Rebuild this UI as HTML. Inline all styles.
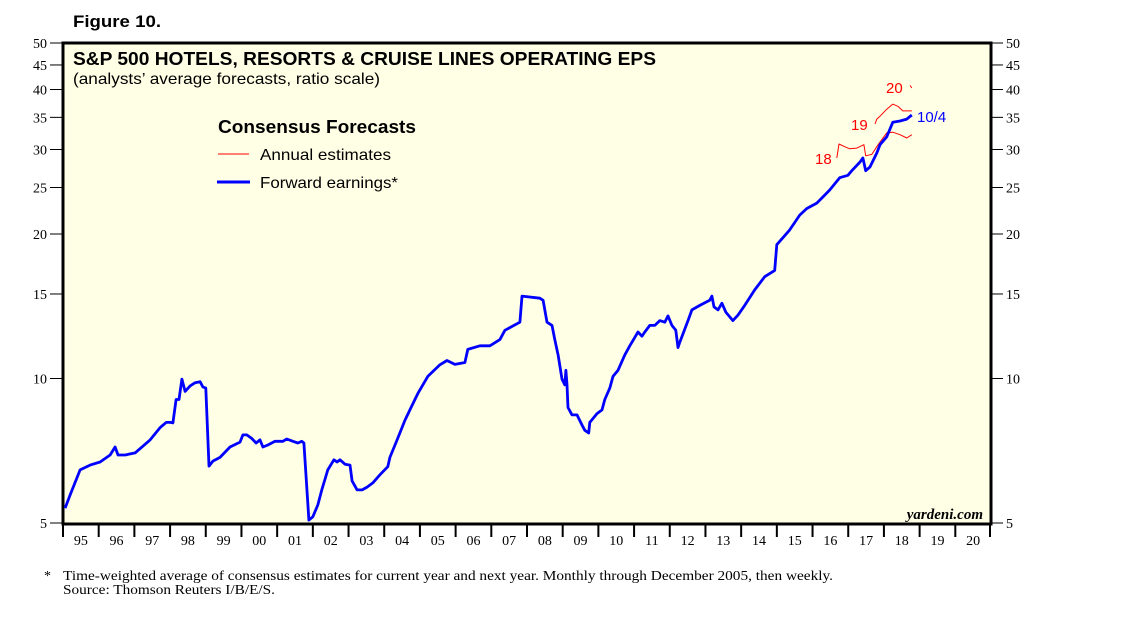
<!DOCTYPE html>
<html><head><meta charset="utf-8">
<style>
body{margin:0;background:#fff;width:1138px;height:623px;overflow:hidden}
svg{display:block}
.t{font-family:"Liberation Serif",serif;font-size:14px;fill:#000}
.s{font-family:"Liberation Sans",sans-serif}
</style></head>
<body>
<svg id="chart" width="1138" height="623" xmlns="http://www.w3.org/2000/svg">
<text x="73" y="27" class="s" font-size="17" font-weight="bold" textLength="88" lengthAdjust="spacingAndGlyphs">Figure 10.</text>
<rect x="63" y="43" width="928" height="481" fill="#FFFFE6" stroke="#000" stroke-width="3"/>
<text x="73" y="65" class="s" font-size="18" font-weight="bold" textLength="583" lengthAdjust="spacingAndGlyphs">S&amp;P 500 HOTELS, RESORTS &amp; CRUISE LINES OPERATING EPS</text>
<text x="73" y="84" class="s" font-size="16" textLength="307" lengthAdjust="spacingAndGlyphs">(analysts’ average forecasts, ratio scale)</text>
<g>
<text x="218" y="133" class="s" font-size="18" font-weight="bold" textLength="198" lengthAdjust="spacingAndGlyphs">Consensus Forecasts</text>
<line x1="218" y1="154" x2="249" y2="154" stroke="#f00" stroke-width="1"/>
<text x="260" y="160" class="s" font-size="16" textLength="131" lengthAdjust="spacingAndGlyphs">Annual estimates</text>
<line x1="217" y1="182" x2="250" y2="182" stroke="#00f" stroke-width="3"/>
<text x="260" y="188" class="s" font-size="16" textLength="138" lengthAdjust="spacingAndGlyphs">Forward earnings*</text>
</g>
<g id="axes"></g>
<g id="series"></g>
<text x="815" y="164" class="s" font-size="15" fill="#f00">18</text>
<text x="851" y="130" class="s" font-size="15" fill="#f00">19</text>
<text x="886" y="93" class="s" font-size="15" fill="#f00">20</text>
<text x="917" y="122" class="s" font-size="15" fill="#00f">10/4</text>
<text x="983" y="519" text-anchor="end" font-family="Liberation Serif,serif" font-style="italic" font-weight="bold" font-size="15">yardeni.com</text>
<text x="44" y="580" class="t" font-size="15">*</text>
<text x="63" y="580" class="t" font-size="15" textLength="770" lengthAdjust="spacingAndGlyphs">Time-weighted average of consensus estimates for current year and next year. Monthly through December 2005, then weekly.</text>
<text x="63" y="594" class="t" font-size="15" textLength="212" lengthAdjust="spacingAndGlyphs">Source: Thomson Reuters I/B/E/S.</text>
</svg>
<script>
const yTicks=[5,10,15,20,25,30,35,40,45,50];
const yearLabels=["95","96","97","98","99","00","01","02","03","04","05","06","07","08","09","10","11","12","13","14","15","16","17","18","19","20"];
const fwdYears=[1995.06,1995.2,1995.48,1995.76,1996.04,1996.32,1996.46,1996.54,1996.74,1997.02,1997.44,1997.72,1997.89,1998.0,1998.08,1998.17,1998.25,1998.33,1998.42,1998.56,1998.7,1998.84,1998.92,1999.0,1999.09,1999.2,1999.4,1999.68,1999.96,2000.04,2000.15,2000.29,2000.41,2000.52,2000.6,2000.74,2000.94,2001.16,2001.27,2001.44,2001.58,2001.69,2001.75,2001.89,2002.0,2002.14,2002.25,2002.42,2002.59,2002.68,2002.76,2002.9,2003.04,2003.1,2003.24,2003.38,2003.52,2003.68,2003.88,2004.1,2004.16,2004.36,2004.58,2004.72,2004.94,2005.22,2005.56,2005.76,2005.98,2006.26,2006.34,2006.68,2006.96,2007.24,2007.38,2007.8,2007.86,2008.36,2008.45,2008.56,2008.7,2008.78,2008.87,2008.98,2009.06,2009.09,2009.12,2009.15,2009.26,2009.4,2009.54,2009.62,2009.73,2009.76,2009.96,2010.1,2010.18,2010.32,2010.41,2010.55,2010.74,2010.88,2011.11,2011.22,2011.3,2011.44,2011.58,2011.72,2011.86,2011.95,2012.06,2012.17,2012.23,2012.28,2012.51,2012.62,2012.84,2013.12,2013.18,2013.24,2013.35,2013.46,2013.57,2013.77,2013.91,2014.1,2014.38,2014.66,2014.94,2015.0,2015.36,2015.64,2015.84,2016.12,2016.34,2016.48,2016.76,2016.99,2017.1,2017.32,2017.41,2017.49,2017.61,2017.8,2017.89,2018.08,2018.25,2018.45,2018.64,2018.78];
const fwdValues=[5.37,5.72,6.45,6.6,6.7,6.93,7.2,6.93,6.93,7.0,7.45,7.9,8.1,8.1,8.08,9.04,9.04,9.97,9.4,9.65,9.8,9.85,9.6,9.55,6.57,6.73,6.85,7.2,7.37,7.63,7.63,7.5,7.34,7.45,7.2,7.27,7.4,7.4,7.48,7.4,7.34,7.4,7.34,5.07,5.15,5.45,5.86,6.45,6.77,6.7,6.77,6.63,6.6,6.12,5.86,5.86,5.94,6.06,6.3,6.55,6.85,7.45,8.18,8.6,9.3,10.1,10.68,10.9,10.7,10.8,11.5,11.7,11.7,12.05,12.6,13.1,14.85,14.7,14.55,13.1,12.9,12.05,11.2,9.97,9.7,10.4,9.7,8.7,8.4,8.4,8.0,7.8,7.7,8.1,8.45,8.6,9.04,9.55,10.1,10.4,11.2,11.7,12.5,12.25,12.5,12.9,12.9,13.2,13.1,13.5,12.9,12.6,11.6,11.9,13.2,13.9,14.2,14.55,14.85,14.1,13.9,14.35,13.75,13.2,13.55,14.2,15.3,16.3,16.8,19.0,20.4,21.9,22.6,23.2,24.1,24.7,26.2,26.5,27.1,28.2,28.8,27.1,27.6,29.5,30.7,31.9,34.2,34.4,34.7,35.4];
const est18Years=[2016.68,2016.74,2016.9,2017.04,2017.24,2017.44,2017.49,2017.66,2017.8,2017.89,2018.08,2018.25,2018.45,2018.64,2018.78];
const est18Values=[28.8,30.8,30.4,30.1,30.2,30.7,29.1,29.3,30.4,31.1,32.5,32.6,32.2,31.7,32.2];
const est19Years=[2017.75,2017.8,2017.89,2018.08,2018.25,2018.39,2018.53,2018.78];
const est19Values=[33.9,34.7,35.2,36.4,37.3,36.9,36.1,36.1];
const est20Years=[2018.73,2018.78];
const est20Values=[40.8,40.3];

const NS="http://www.w3.org/2000/svg";
const L=63,R=991,T=43,B=523,Y0=1995,Y1=2021;
function xs(y){return L+(y-Y0)/(Y1-Y0)*(R-L);}
function ys(v){return B-(Math.log10(v/5))/1*(B-T);}
function mk(tag,attrs,parent){const e=document.createElementNS(NS,tag);for(const k in attrs)e.setAttribute(k,attrs[k]);parent.appendChild(e);return e;}
const axes=document.getElementById('axes');
yTicks.forEach(v=>{
  const y=ys(v);
  const a=mk('line',{x1:50,y1:y,x2:63,y2:y,stroke:'#000','stroke-width':1},axes);
  
  
  const b=mk('line',{x1:991,y1:y,x2:1003,y2:y,stroke:'#000','stroke-width':1},axes);
  
  
  const t1=mk('text',{x:47,y:y+5,'text-anchor':'end',class:'t'},axes);t1.textContent=v;
  
  
  const t2=mk('text',{x:1006,y:y+5,class:'t'},axes);t2.textContent=v;
  
  
});
yearLabels.forEach((lab,i)=>{
  const x=xs(Y0+i);
  const tk=mk('line',{x1:x,y1:525,x2:x,y2:537,stroke:'#000','stroke-width':2},axes);
  
  
  const t=mk('text',{x:xs(Y0+i+0.5),y:545,'text-anchor':'middle',class:'t'},axes);t.textContent=lab;
  
  
});
const tkEnd=mk('line',{x1:990,y1:525,x2:990,y2:537,stroke:'#000','stroke-width':2},axes);


const ser=document.getElementById('series');
function path(xsArr,vs,color,w,name){
  const d=xsArr.map((x,i)=>(i?'L':'M')+xs(x).toFixed(1)+','+ys(vs[i]).toFixed(1)).join('');
  const p=mk('path',{d:d,fill:'none',stroke:color,'stroke-width':w,'stroke-linejoin':'round'},ser);
  
  
}
path(est18Years,est18Values,'#f00',1,'annual-estimate-2018');
path(est19Years,est19Values,'#f00',1,'annual-estimate-2019');
path(est20Years,est20Values,'#f00',1,'annual-estimate-2020');
path(fwdYears,fwdValues,'#00f',2.8,'forward-earnings-line');
</script>
</body></html>
